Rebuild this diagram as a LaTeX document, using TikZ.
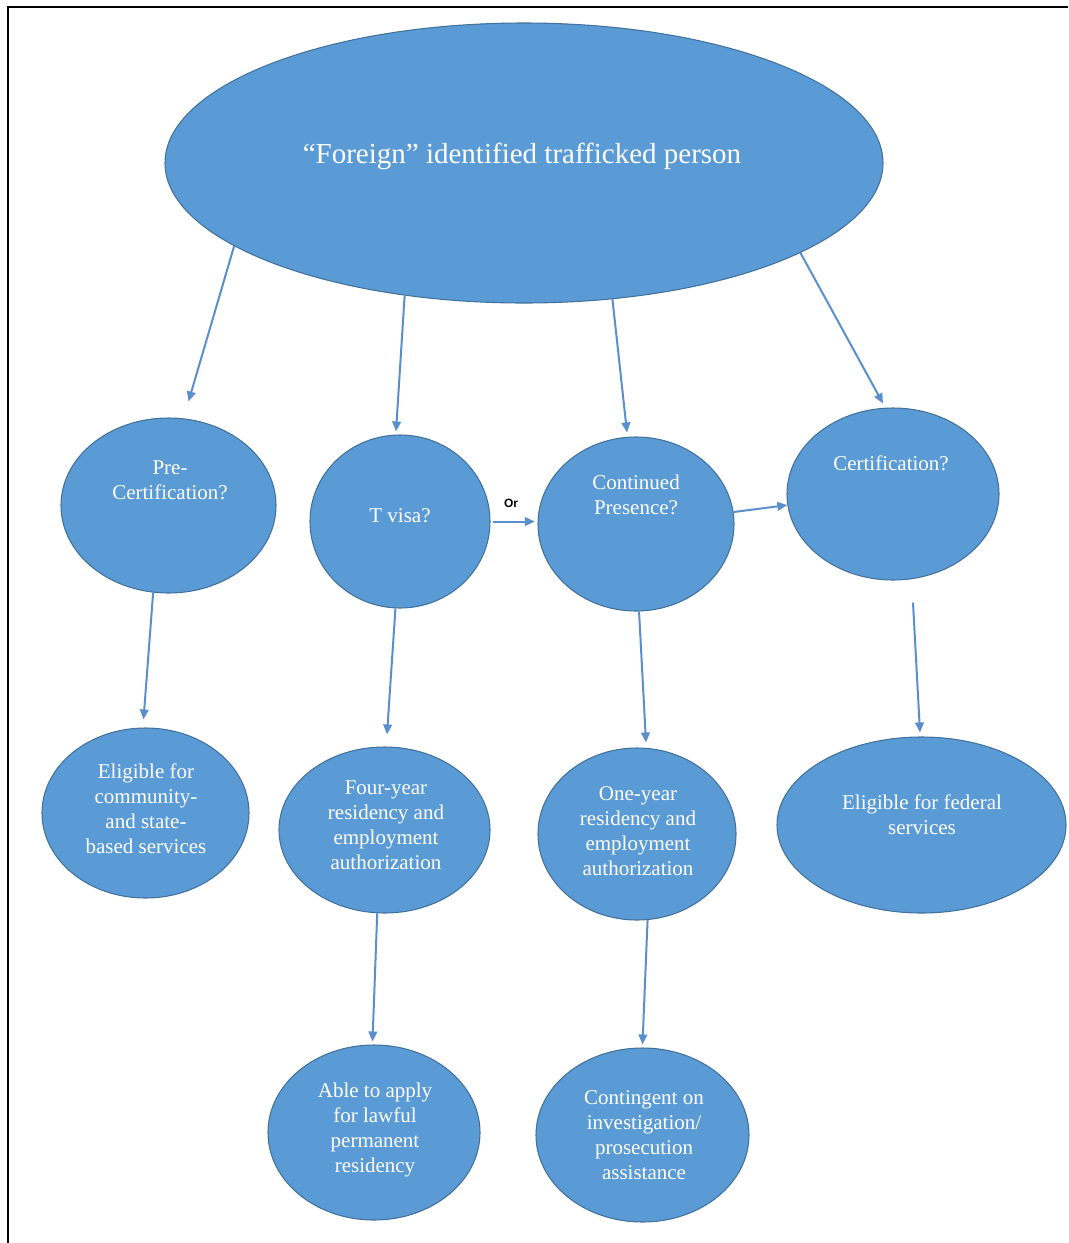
\documentclass[tikz,border=0pt]{standalone}
\usepackage{fontspec}
\setmainfont{Liberation Serif}
\newfontfamily\orfont{Liberation Sans}
\usetikzlibrary{shapes.geometric,arrows.meta,calc}
\definecolor{fillblue}{HTML}{5B9BD5}
\definecolor{edgeblue}{HTML}{41719C}
\definecolor{arrowblue}{HTML}{5B8FCB}
\begin{document}
\begin{tikzpicture}[x=0.75pt,y=-0.75pt,
  blob/.style={ellipse,draw=edgeblue,line width=0.8pt,fill=fillblue,inner sep=0pt},
  txt/.style={text=white,align=center,font=\fontsize{15.75}{18.75}\selectfont,inner sep=0pt},
  orlabel/.style={text=black,inner sep=0pt,font=\orfont\bfseries\fontsize{9}{10}\selectfont},
  arr/.style={draw=arrowblue,line width=1.5pt,-{Triangle[length=7.5pt,width=6.5pt]}}]
\useasboundingbox (0,0) rectangle (1068,1243);
\fill[white] (0,0) rectangle (1068,1243);
\draw[line width=1.8pt] (8,1243) -- (8,7) -- (1068,7);

% shapes
\node[blob,minimum width=538.5pt,minimum height=210pt] (top) at (524,163) {};
\node[blob,minimum width=161.25pt,minimum height=131.25pt] (pre) at (168.5,505.5) {};
\node[blob,minimum width=135pt,minimum height=129.75pt] (tvisa) at (400,521.5) {};
\node[blob,minimum width=147pt,minimum height=130.5pt] (cont) at (636,524) {};
\node[blob,minimum width=159pt,minimum height=129pt] (cert) at (893,494) {};
\node[blob,minimum width=155.25pt,minimum height=127.5pt] (elig) at (145.5,813) {};
\node[blob,minimum width=158.25pt,minimum height=124.5pt] (four) at (384.5,830) {};
\node[blob,minimum width=148.5pt,minimum height=129pt] (one) at (637,834) {};
\node[blob,minimum width=216.75pt,minimum height=132pt] (fed) at (921.5,825) {};
\node[blob,minimum width=159pt,minimum height=131.25pt] (able) at (374,1132.5) {};
\node[blob,minimum width=159.75pt,minimum height=130.5pt] (cont2) at (642.5,1135) {};

% texts
\node[txt,font=\fontsize{21.75}{26}\selectfont] (ttop) at (522,156) {“Foreign” identified trafficked person};
\node[txt] (tpre) at (170,480) {Pre-\\Certification?};
\node[txt] (ttvisa) at (400,516) {T visa?};
\node[txt] (tcont) at (636,495) {Continued\\Presence?};
\node[txt] (tcert) at (891,463) {Certification?};
\node[txt] (telig) at (146,809) {Eligible for\\community-\\and state-\\based services};
\node[txt] (tfour) at (386,825.5) {Four-year\\residency and\\employment\\authorization};
\node[txt] (tone) at (638,831) {One-year\\residency and\\employment\\authorization};
\node[txt] (tfed) at (922,815) {Eligible for federal\\services};
\node[txt] (table) at (375,1130) {Able to apply\\for lawful\\permanent\\residency};
\node[txt] (tcont2) at (644,1135) {Contingent on\\investigation/\\prosecution\\assistance};
\node[orlabel] (or) at (511,503) {Or};

% connectors
\draw[arr] (top.196.7) -- ([shift={(20,-16)}]pre.north);
\draw[arr] (top.228.2) -- ([shift={(-4,-3)}]tvisa.north);
\draw[arr] (top.303.4) -- ([shift={(-9,-4)}]cont.north);
\draw[arr] (top.342.2) -- ([shift={(-10,-4)}]cert.north);

\draw[arr,shorten <=2pt,shorten >=2pt] (tvisa.east) -- (tvisa.east -| cont.west);
\draw[arr] (cont.7) -- (cert.186);

\draw[arr] (pre.260) -- ([shift={(-2,-8)}]elig.north);
\draw[arr] (tvisa.267) -- ([shift={(2.5,-12)}]four.north);
\draw[arr] (cont.272) -- ([shift={(9,-5)}]one.north);
\coordinate (cs) at ([shift={(20,22)}]cert.south);
\draw[arr] (cs) -- ([shift={(-1.5,-4)}]fed.north);

\draw[arr] (four.265) -- ([shift={(-1.5,-3)}]able.north);
\draw[arr] (one.277) -- ([shift={(0,-3)}]cont2.north);
\end{tikzpicture}
\end{document}
